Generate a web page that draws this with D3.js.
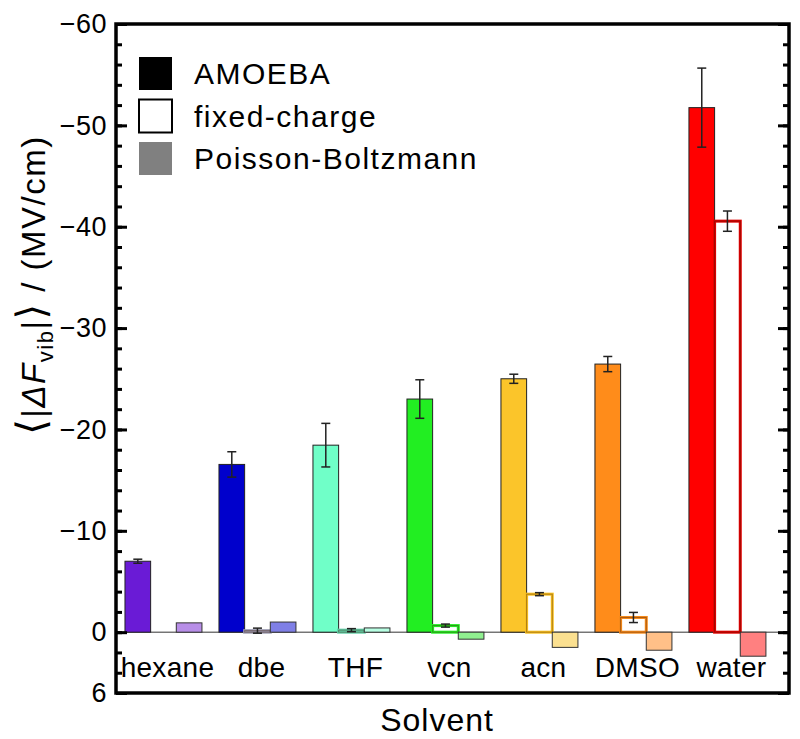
<!DOCTYPE html>
<html><head><meta charset="utf-8">
<script src="https://cdn.jsdelivr.net/npm/d3@7"></script>
<style>body{margin:0;background:#fff} text{font-family:"Liberation Sans",Arial,Helvetica,sans-serif;fill:#000}</style>
</head><body><svg id="c" width="800" height="739"></svg>
<script>
const categories = ["hexane","dbe","THF","vcn","acn","DMSO","water"];
const series = ["AMOEBA","fixed-charge","Poisson-Boltzmann"];
const amoeba    = [-7.0, -16.55, -18.45, -23.0, -25.0, -26.45, -51.75];
const amoebaErr = [0.2, 1.25, 2.15, 1.9, 0.45, 0.75, 3.9];
const fixedCharge = [0, -0.15, -0.2, -0.65, -3.75, -1.45, -40.55];
const fixedErr    = [0, 0.25, 0.15, 0.15, 0.15, 0.5, 1.0];
const poissonBoltzmann = [-0.92, -1.0, -0.42, 0.69, 1.5, 1.78, 2.37];
const amoebaColors = ["#6a1bd6","#0000cc","#70ffc8","#22ee22","#fbc52a","#ff8c1a","#ff0000"];
const fixedColors  = ["#8a6ad0","#9a9ab0","#60d0a8","#22ee22","#f8c020","#f58a1a","#e00000"];
const pbColors     = ["#b88ee8","#7f7fe6","#b8ffe3","#90f090","#fbe090","#ffc088","#ff8080"];
const legendColors = ["#000000","#ffffff","#808080"];
const yMajorTicks = [-60,-50,-40,-30,-20,-10,0,6];
const yMinorTicks = d3.range(-60, 7, 2);

const svg = d3.select("#c");
const L = 116, R = 789, T = 24, B = 693;
const y = d3.scaleLinear().domain([-60, 6]).range([T, B]);
const x0 = d3.scaleBand().domain(categories).range([L, R]).paddingInner(0.181).paddingOuter(0.1705).align(0.28);
const x1 = d3.scaleBand().domain(series).range([0, x0.bandwidth()]);
const bw = x1.bandwidth();

// zero line
svg.append("line").attr("x1", L).attr("x2", R).attr("y1", y(0)).attr("y2", y(0))
  .attr("stroke", "#333").attr("stroke-width", 1);

const g = svg.append("g");
categories.forEach((c, i) => {
  const gx = x0(c);
  const xa = gx + x1("AMOEBA");
  g.append("rect").attr("x", xa).attr("width", bw)
    .attr("y", y(Math.min(0, amoeba[i]))).attr("height", Math.abs(y(amoeba[i]) - y(0)))
    .attr("fill", amoebaColors[i]).attr("stroke", "#222").attr("stroke-width", 1);
  const xf = gx + x1("fixed-charge");
  if (fixedCharge[i] !== 0) {
    const h = Math.abs(y(fixedCharge[i]) - y(0));
    g.append("rect").attr("x", xf).attr("width", bw)
      .attr("y", y(Math.min(0, fixedCharge[i]))).attr("height", h)
      .attr("fill", "#fff").attr("stroke", fixedColors[i]).attr("stroke-width", 3);
    g.append("rect").attr("x", xf).attr("width", bw)
      .attr("y", y(Math.min(0, fixedCharge[i]))).attr("height", h)
      .attr("fill", "none").attr("stroke", "rgba(60,20,0,0.4)").attr("stroke-width", 1);
  }
  const xp = gx + x1("Poisson-Boltzmann");
  g.append("rect").attr("x", xp).attr("width", bw)
    .attr("y", y(Math.min(0, poissonBoltzmann[i]))).attr("height", Math.abs(y(poissonBoltzmann[i]) - y(0)))
    .attr("fill", pbColors[i]).attr("stroke", "#333").attr("stroke-width", 1);
});

function errBar(cx, v, e) {
  if (!e) return;
  const t = y(v - e), b = y(v + e);
  g.append("line").attr("x1", cx).attr("x2", cx).attr("y1", t).attr("y2", b).attr("stroke", "#222").attr("stroke-width", 1.5);
  [t, b].forEach(yy => g.append("line").attr("x1", cx - 4.5).attr("x2", cx + 4.5).attr("y1", yy).attr("y2", yy)
    .attr("stroke", "#222").attr("stroke-width", 1.5));
}
categories.forEach((c, i) => {
  errBar(x0(c) + x1("AMOEBA") + bw / 2, amoeba[i], amoebaErr[i]);
  errBar(x0(c) + x1("fixed-charge") + bw / 2, fixedCharge[i], fixedErr[i]);
});

const fmt = d => d < 0 ? "\u2212" + (-d) : String(d);
const axL = svg.append("g").attr("transform", `translate(${L},0)`)
  .call(d3.axisLeft(y).tickValues(yMajorTicks).tickSize(-11).tickPadding(9).tickFormat(fmt));
const axLm = svg.append("g").attr("transform", `translate(${L},0)`)
  .call(d3.axisLeft(y).tickValues(yMinorTicks).tickSize(-6).tickFormat(""));
const axR = svg.append("g").attr("transform", `translate(${R},0)`)
  .call(d3.axisRight(y).tickValues(yMajorTicks).tickSize(-11).tickFormat(""));
const axRm = svg.append("g").attr("transform", `translate(${R},0)`)
  .call(d3.axisRight(y).tickValues(yMinorTicks).tickSize(-6).tickFormat(""));
[axL, axLm, axR, axRm].forEach(a => {
  a.select(".domain").remove();
  a.selectAll(".tick line").attr("stroke", "#000").attr("stroke-width", 3);
});
axL.selectAll(".tick text").attr("font-size", 27).attr("letter-spacing", 0.5)
  .attr("font-family", "Liberation Sans, Arial, sans-serif");

svg.append("rect").attr("x", L).attr("y", T).attr("width", R - L).attr("height", B - T)
  .attr("fill", "none").attr("stroke", "#000").attr("stroke-width", 3.5);

svg.append("g").selectAll("text").data(categories).join("text")
  .attr("x", d => x0(d) + x0.bandwidth() / 2 + 4).attr("y", 677)
  .attr("text-anchor", "middle").attr("font-size", 28).attr("letter-spacing", 0.3).text(d => d);

svg.append("text").attr("x", 437).attr("y", 731).attr("text-anchor", "middle")
  .attr("font-size", 32).attr("letter-spacing", 1).text("Solvent");

const yt = svg.append("text").attr("transform", "translate(45,285) rotate(-90)")
  .attr("text-anchor", "middle").attr("font-size", 33).attr("letter-spacing", 1.5);
yt.append("tspan").attr("font-size", 40).attr("font-family", "DejaVu Sans").text("\u27E8");
yt.append("tspan").text("|");
yt.append("tspan").attr("font-style", "italic").text("\u0394F");
yt.append("tspan").attr("font-size", 22).attr("dy", 8).text("vib");
yt.append("tspan").attr("dy", -8).text("|");
yt.append("tspan").attr("font-size", 40).attr("font-family", "DejaVu Sans").text("\u27E9");
yt.append("tspan").text(" / (MV/cm)");

const lg = svg.append("g");
series.forEach((s, i) => {
  const yy = 57 + i * 42.5;
  lg.append("rect").attr("x", 139).attr("y", yy).attr("width", 33).attr("height", 33)
    .attr("fill", legendColors[i]).attr("stroke", i === 1 ? "#000" : "none").attr("stroke-width", 2);
  lg.append("text").attr("x", 194).attr("y", yy + 27).attr("font-size", 30).attr("letter-spacing", 1.5).text(s);
});
</script></body></html>
